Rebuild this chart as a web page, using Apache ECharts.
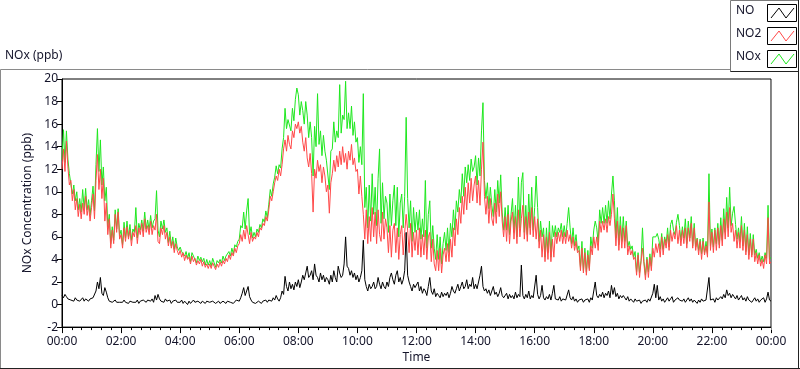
<!DOCTYPE html>
<html>
<head>
<meta charset="utf-8">
<script src="https://cdn.jsdelivr.net/npm/echarts@6/dist/echarts.min.js"></script>
<style>
html,body{margin:0;padding:0;background:#fff;}
#chart{width:800px;height:369px;}
</style>
</head>
<body>
<div id="chart"></div>
<script>
// ---- data: 3-minute samples, 00:00 .. 24:00 (one row = one hour) ----
const dayMinutes = 1440;
const xTickLabels = ['00:00','02:00','04:00','06:00','08:00','10:00','12:00','14:00','16:00','18:00','20:00','22:00','00:00'];
const seriesNames = ['NO','NO2','NOx'];

const noValues = [
 0.8,0.6,0.9,0.7,0.5,0.6,0.4,0.5,0.3,0.6,0.4,0.5,0.3,0.4,0.6,0.3,0.5,0.4,0.3,0.5,
 0.4,0.6,0.5,1.2,2.0,1.4,2.4,1.0,0.8,1.5,1.1,0.6,0.3,0.4,0.2,0.3,0.4,0.2,0.3,0.2,
 0.3,0.2,0.4,0.2,0.3,0.1,0.3,0.4,0.2,0.3,0.2,0.4,0.1,0.3,0.2,0.4,0.3,0.2,0.4,0.3,
 0.3,0.5,0.2,0.8,0.4,0.9,0.5,0.3,0.4,0.2,0.5,0.3,0.2,0.4,0.1,0.3,0.2,0.4,0.2,0.3,
 0.2,0.4,0.1,0.3,0.2,0.0,0.3,0.1,0.2,0.4,0.2,0.1,0.3,0.2,0.1,0.3,0.2,0.1,0.3,0.2,
 0.2,0.1,0.3,0.2,0.1,0.2,0.3,0.1,0.2,0.3,0.2,0.1,0.3,0.2,0.2,0.3,0.1,0.2,0.4,0.3,
 0.3,0.6,1.0,1.5,0.8,1.2,1.6,0.7,0.4,0.2,0.3,0.1,0.2,0.3,0.2,0.1,0.3,0.2,0.4,0.2,
 0.4,0.5,0.3,0.6,0.4,0.8,0.5,0.3,0.6,1.2,0.9,2.5,1.6,1.2,2.0,1.4,1.8,1.3,2.0,1.6,
 2.2,1.5,2.0,2.6,2.2,2.8,3.4,2.4,2.6,3.0,2.2,3.6,2.6,2.4,2.0,2.8,2.2,2.6,2.0,2.4,
 2.2,1.8,2.6,2.0,3.0,2.4,2.0,3.4,2.8,2.4,2.6,3.6,6.0,3.4,3.2,2.6,3.0,2.4,2.8,2.2,
 2.6,2.0,2.4,3.0,5.7,2.2,1.6,1.2,1.8,1.4,1.6,2.0,1.4,1.6,2.4,1.8,1.4,2.0,1.6,1.4,
 2.0,1.6,2.4,2.8,2.2,1.8,2.6,3.0,2.0,2.4,1.8,2.2,3.0,6.4,2.6,2.0,1.6,1.2,1.8,1.5,
 1.4,2.0,1.2,1.6,1.0,1.4,1.2,0.8,1.6,2.4,1.2,0.9,1.4,0.7,1.0,0.8,0.6,1.1,0.7,1.0,
 0.8,1.1,0.6,1.0,1.6,1.2,1.0,1.4,1.8,1.2,1.6,2.0,1.4,1.6,2.2,1.4,1.8,1.6,2.4,1.4,
 1.8,1.4,2.0,2.6,3.4,1.6,1.2,1.4,1.0,1.3,0.8,1.2,1.6,0.9,1.1,0.7,1.0,1.5,0.8,0.6,
 0.7,1.0,0.5,0.9,0.6,0.8,0.5,1.1,0.6,0.9,0.7,3.5,0.8,0.5,0.9,0.6,1.2,0.5,0.8,0.6,
 0.7,2.6,0.9,0.5,0.8,1.7,0.6,0.4,0.7,0.5,0.9,0.4,1.0,1.7,0.5,0.6,0.4,0.7,0.3,0.5,
 0.6,0.4,0.5,1.3,0.6,0.4,0.7,0.3,0.5,0.2,0.4,0.3,0.5,0.2,0.4,0.3,0.5,0.2,0.6,0.4,
 0.5,2.0,0.8,0.6,0.9,0.7,1.1,0.6,1.0,0.8,1.2,0.6,1.7,0.9,1.5,0.7,1.0,0.5,0.8,0.6,
 0.8,0.6,0.4,0.7,0.3,0.5,0.4,0.2,0.5,0.3,0.2,0.4,0.1,0.3,0.2,0.4,0.2,0.5,0.3,0.4,
 1.0,1.8,0.6,1.7,0.4,0.7,0.3,0.5,0.2,0.4,0.6,0.3,0.5,0.7,0.2,0.4,0.3,0.6,0.4,0.5,
 0.3,0.5,0.2,0.4,0.6,0.3,0.5,0.2,0.4,0.3,0.1,0.4,0.2,0.5,0.3,0.2,0.4,0.3,2.4,0.4,
 0.3,0.5,0.2,0.6,0.4,0.3,0.7,0.5,0.9,0.6,1.3,0.8,1.0,0.6,0.9,0.7,0.5,0.8,0.4,0.6,
 0.8,0.4,0.6,0.3,0.7,0.4,0.5,0.2,0.4,0.6,0.3,0.5,0.2,0.4,0.3,0.6,0.2,0.5,1.1,0.4,
 0.3
];

const no2Values = [
 12.0,13.8,11.8,14.5,12.2,10.6,11.0,9.2,10.2,8.4,9.4,7.8,8.9,7.6,9.0,8.0,9.6,7.9,8.8,7.4,
 8.6,9.8,7.6,11.0,13.3,10.2,12.0,9.4,11.2,7.4,9.0,6.2,7.6,5.0,6.6,5.4,8.0,6.4,8.2,5.8,
 6.2,5.0,6.8,5.6,6.9,5.8,6.6,5.2,6.4,6.0,7.0,5.4,6.8,6.2,7.2,6.0,7.6,6.4,7.0,6.2,
 7.4,6.2,7.0,6.6,8.0,5.6,5.4,6.8,6.2,7.0,5.8,6.4,5.2,6.0,5.0,5.6,4.6,5.4,4.8,4.4,
 4.8,4.2,4.6,3.9,4.4,4.0,4.2,3.6,4.3,3.8,4.1,3.5,3.9,3.6,4.0,3.4,3.8,3.3,3.6,3.2,
 3.6,3.2,3.7,3.4,3.1,3.6,3.3,3.8,3.4,3.9,3.6,4.1,3.8,4.4,4.0,4.6,4.3,5.0,4.6,5.2,
 5.4,6.2,5.6,6.6,5.8,7.0,6.2,5.4,6.4,5.6,6.0,5.8,6.4,6.0,6.8,6.6,7.2,7.0,7.8,7.4,
 8.4,9.6,9.2,10.0,10.8,11.4,11.0,12.0,11.4,12.4,13.8,14.6,13.6,15.0,14.2,13.8,15.4,14.8,16.0,15.6,
 16.2,15.2,15.8,14.4,13.6,14.8,13.0,12.2,13.4,11.6,8.2,12.0,11.2,12.8,11.8,12.4,10.8,12.2,11.4,10.0,
 10.6,8.1,10.8,11.6,12.8,11.8,13.2,12.2,13.6,12.4,14.0,12.6,13.4,12.0,13.6,12.8,14.2,12.4,13.0,11.8,
 12.0,9.8,11.4,9.6,8.0,5.8,8.4,5.4,7.8,5.6,8.6,6.0,8.2,5.4,8.4,6.2,5.6,8.2,5.8,7.6,
 6.8,4.6,7.0,4.2,6.6,7.2,4.6,6.8,4.0,6.2,7.0,4.4,6.4,8.0,6.6,4.6,7.2,4.2,6.4,4.8,
 6.6,4.4,6.8,4.2,6.2,4.4,6.6,4.0,6.0,6.4,3.8,5.8,3.6,3.0,4.8,3.0,5.0,2.8,4.4,5.0,
 3.8,5.4,3.8,5.8,4.2,6.8,5.2,7.6,6.2,8.6,7.2,9.6,8.0,10.4,8.4,10.8,9.0,11.2,9.2,10.6,
 11.4,9.0,11.0,8.8,12.0,14.4,9.6,8.0,9.6,7.2,9.4,7.6,7.0,9.0,7.2,9.8,7.8,10.0,7.4,6.0,
 7.8,5.6,8.0,5.4,7.4,8.2,5.8,7.8,5.4,8.4,6.0,7.6,8.8,5.8,7.8,5.6,8.2,6.2,8.6,6.0,
 7.8,5.8,7.6,5.0,6.6,4.2,6.2,3.8,6.0,4.0,6.4,3.8,5.8,4.2,6.4,5.4,6.4,5.6,6.6,5.4,
 6.4,5.4,6.6,5.6,6.2,5.0,6.0,4.8,5.6,4.6,4.8,3.0,5.0,2.8,4.6,2.6,4.4,3.0,5.2,4.4,
 6.0,5.0,6.0,4.8,7.4,6.4,7.4,6.6,7.6,6.4,7.8,7.0,8.0,9.8,7.6,5.2,7.4,4.8,7.0,5.0,
 6.8,5.0,7.0,4.4,5.2,4.4,4.8,4.0,4.2,2.6,4.4,2.4,3.8,5.0,3.6,2.2,4.0,2.4,4.2,3.0,
 5.0,4.2,5.4,4.6,5.4,4.2,6.0,4.4,5.8,5.0,6.2,4.8,6.6,5.6,6.4,5.8,7.0,5.4,6.6,5.2,
 6.6,5.4,6.8,5.0,6.8,5.6,7.2,5.0,6.8,4.8,5.8,4.4,5.6,4.0,5.6,4.4,5.2,4.2,9.1,4.8,
 6.4,4.6,6.6,4.8,6.8,5.0,7.0,5.2,7.6,5.8,8.2,6.0,8.6,6.4,7.2,5.6,6.6,5.0,6.4,5.0,
 7.0,4.8,6.6,4.4,6.2,4.0,5.8,4.2,5.8,3.8,4.6,3.6,4.4,3.4,4.0,3.2,4.4,3.6,7.7,3.6,
 3.8
];

const noxValues = [
 12.8,15.5,12.6,15.4,12.9,11.6,11.6,9.8,10.6,9.2,10.0,8.4,9.4,8.2,10.2,8.5,10.3,8.4,9.3,7.9,
 9.2,10.5,8.3,12.4,15.6,11.8,14.6,10.6,12.2,9.2,10.4,6.9,8.0,5.4,6.9,5.7,8.4,6.7,8.5,6.1,
 6.6,5.3,7.3,5.9,7.4,6.0,7.1,5.7,6.7,6.4,8.6,5.9,7.2,6.6,7.5,6.5,8.2,6.7,7.5,6.6,
 7.9,6.8,7.4,7.6,10.1,6.6,6.0,7.4,6.7,7.5,6.4,6.8,5.5,6.5,5.2,6.0,4.9,5.9,5.1,4.8,
 5.1,4.7,4.8,4.3,4.7,4.1,4.6,3.8,4.6,4.3,4.4,3.7,4.3,3.9,4.2,3.8,4.1,3.5,4.0,3.5,
 3.9,3.4,4.1,3.7,3.3,3.9,3.7,4.0,3.7,4.3,3.9,4.3,4.2,4.7,4.3,5.0,4.5,5.3,5.1,5.6,
 5.8,7.0,6.8,8.2,6.7,8.3,9.4,6.2,6.9,5.9,6.4,6.0,6.7,6.4,7.1,6.8,7.6,7.3,8.3,7.7,
 8.9,10.2,9.6,10.7,11.3,12.3,11.6,12.4,12.1,13.8,14.8,17.4,15.6,16.4,16.5,15.4,17.4,16.3,18.2,19.2,
 18.6,16.8,18.0,17.2,16.0,18.0,16.8,14.8,16.2,14.8,11.4,15.8,14.0,18.7,14.2,15.4,13.2,15.0,13.6,12.8,
 12.9,10.2,13.6,13.8,16.2,14.4,15.4,14.8,19.5,15.2,16.8,16.4,19.8,15.6,17.0,15.6,17.6,15.0,16.2,14.4,
 14.8,12.6,14.0,12.4,18.7,8.6,10.4,6.8,10.6,7.4,11.6,8.0,10.4,7.0,11.2,13.8,7.2,10.8,7.6,9.6,
 9.0,6.4,9.8,7.0,9.2,10.6,7.0,10.4,6.0,9.0,9.8,6.8,9.6,16.6,9.4,6.8,9.2,5.6,8.6,6.4,
 8.2,6.6,8.4,5.8,7.6,6.0,11.0,5.0,8.0,9.2,5.0,7.0,5.0,4.0,6.2,4.0,6.0,3.6,5.4,6.4,
 4.8,6.8,4.6,7.2,6.0,8.4,6.6,9.2,8.2,10.2,9.0,11.6,9.6,12.2,10.8,12.4,11.0,12.9,11.8,12.2,
 13.2,10.6,13.0,11.4,15.4,17.9,11.0,9.4,10.8,8.5,10.4,8.8,7.8,10.2,8.2,11.0,9.0,11.5,8.2,6.6,
 8.6,6.6,8.8,6.2,8.0,9.4,6.4,8.8,6.0,11.3,6.8,10.8,11.7,6.4,8.8,6.2,9.8,6.8,10.4,6.6,
 8.6,11.4,8.6,5.6,7.4,6.0,6.8,4.2,6.8,4.6,7.4,4.2,7.0,6.0,7.0,6.0,6.8,6.4,7.2,6.0,
 7.0,6.0,7.2,8.6,6.8,5.4,6.8,5.2,6.2,4.8,5.2,3.3,5.6,3.0,5.0,2.9,4.8,3.2,6.0,5.0,
 6.6,7.4,6.8,5.5,8.4,7.2,8.6,7.2,8.8,7.2,9.2,7.6,9.8,11.4,9.2,5.9,8.6,5.3,7.8,5.6,
 7.8,5.6,7.4,5.1,5.6,4.9,5.2,4.2,4.7,2.9,4.6,2.8,3.9,6.8,3.8,2.6,4.2,2.9,4.5,3.4,
 6.0,6.0,6.0,6.3,5.8,4.9,6.3,4.9,6.0,5.4,6.8,5.1,7.1,7.5,6.6,6.2,7.3,8.0,7.0,5.7,
 6.9,5.9,7.6,5.4,7.4,5.9,7.8,5.2,7.2,5.1,5.9,4.8,5.8,4.5,5.9,4.6,5.6,4.5,11.6,5.2,
 6.7,5.1,6.8,5.4,7.2,5.3,7.7,5.7,8.5,6.4,9.5,6.8,10.4,7.0,8.1,8.7,7.1,5.8,6.8,5.6,
 7.8,5.2,7.2,4.7,6.9,4.4,6.3,4.4,6.2,4.4,4.9,4.1,4.6,3.8,4.3,3.8,4.6,4.1,8.8,4.0,
 4.2
];

// ---- build ----
function pairs(vals){
  const step = dayMinutes / (vals.length - 1);
  return vals.map((v,i)=>[i*step, v]);
}
const FONT = '"Noto Sans", "Liberation Sans", sans-serif';
const TXT = '#14142a';
const COLORS = {NO:'#000000', NO2:'#ff4848', NOx:'#1ee81e'};

const chart = echarts.init(document.getElementById('chart'), null, {renderer:'canvas'});

const legendGraphics = [];
seriesNames.forEach((name,k)=>{
  const y = 4 + k*23;
  legendGraphics.push({type:'text', left:736, top:y+1, style:{text:name, font:'12px '+FONT, fill:TXT}, z:101});
  legendGraphics.push({type:'rect', shape:{x:767.5, y:y+0.5, width:29, height:17}, style:{fill:'#fff', stroke:'#000', lineWidth:1}, z:101});
  legendGraphics.push({type:'polyline', shape:{points:[[771,y+14],[779,y+4],[786,y+14],[794,y+4]]}, style:{stroke:COLORS[name], lineWidth:1, fill:null}, z:102});
});

chart.setOption({
  animation:false,
  backgroundColor:'#ffffff',
  grid:{left:62, right:29, top:79, bottom:39, show:true, borderColor:'#000', borderWidth:1, backgroundColor:'#fff'},
  xAxis:{
    type:'value', min:0, max:dayMinutes, interval:120,
    name:'Time', nameLocation:'middle', nameGap:23,
    nameTextStyle:{fontFamily:FONT, fontSize:12, color:TXT},
    axisLine:{show:true, onZero:false, lineStyle:{color:'#000', width:1}},
    axisTick:{show:true, length:6, lineStyle:{color:'#000'}},
    minorTick:{show:true, splitNumber:6, length:3, lineStyle:{color:'#000'}},
    splitLine:{show:false},
    axisLabel:{fontFamily:FONT, fontSize:12, color:TXT, margin:8,
      formatter:(v)=>xTickLabels[Math.round(v/120)]}
  },
  yAxis:{
    type:'value', min:-2, max:20, interval:2,
    name:'NOx Concentration (ppb)', nameLocation:'middle', nameGap:23, nameRotate:90,
    nameTextStyle:{fontFamily:FONT, fontSize:12, color:TXT},
    axisLine:{show:true, lineStyle:{color:'#000', width:1}},
    axisTick:{show:true, length:5, lineStyle:{color:'#000'}},
    splitLine:{show:false},
    axisLabel:{fontFamily:FONT, fontSize:12, color:TXT, margin:4}
  },
  series:[
    {name:'NOx', type:'line', data:pairs(noxValues), showSymbol:false, symbol:'none',
      lineStyle:{color:COLORS.NOx, width:1}, z:2},
    {name:'NO2', type:'line', data:pairs(no2Values), showSymbol:false, symbol:'none',
      lineStyle:{color:COLORS.NO2, width:1}, z:3},
    {name:'NO', type:'line', data:pairs(noValues), showSymbol:false, symbol:'none',
      lineStyle:{color:COLORS.NO, width:1}, z:4}
  ],
  graphic:[
    {type:'line', shape:{x1:0.5, y1:69.5, x2:735, y2:69.5}, style:{stroke:'#8a8a8a', lineWidth:1}, z:50},
    {type:'line', shape:{x1:0.5, y1:69.5, x2:0.5, y2:369}, style:{stroke:'#8a8a8a', lineWidth:1}, z:50},
    {type:'line', shape:{x1:0, y1:368.5, x2:800, y2:368.5}, style:{stroke:'#222', lineWidth:1}, z:50},
    {type:'line', shape:{x1:798.5, y1:0, x2:798.5, y2:369}, style:{stroke:'#222', lineWidth:1}, z:50},
    {type:'line', shape:{x1:771.5, y1:79, x2:771.5, y2:330}, style:{stroke:'#8a8a8a', lineWidth:1}, z:50},
    {type:'rect', shape:{x:730.5, y:0.5, width:68, height:71}, style:{fill:'#fff', stroke:'#7a7a7a', lineWidth:1}, z:100},
    {type:'line', shape:{x1:730.5, y1:71.5, x2:799, y2:71.5}, style:{stroke:'#222', lineWidth:1}, z:100},
    {type:'line', shape:{x1:798.5, y1:0, x2:798.5, y2:72}, style:{stroke:'#222', lineWidth:1}, z:100},
    {type:'text', left:5, top:50, style:{text:'NOx (ppb)', font:'12px '+FONT, fill:TXT}, z:60}
  ].concat(legendGraphics)
});
</script>
</body>
</html>
